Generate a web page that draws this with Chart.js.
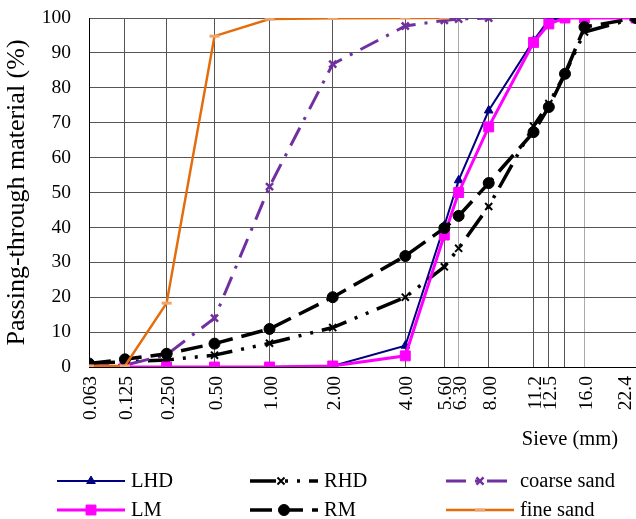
<!DOCTYPE html>
<html>
<head>
<meta charset="utf-8">
<script src="https://cdn.jsdelivr.net/npm/chart.js@4/dist/chart.umd.min.js"></script>
<style>
html, body { margin: 0; padding: 0; background: #fff; }
</style>
</head>
<body>
<canvas id="myChart" width="636" height="519"></canvas>
<script>
// sieve sizes (mm) and their tick labels, 14 mm has a grid line but no label
var sieves = [0.063, 0.125, 0.25, 0.5, 1, 2, 4, 5.6, 6.3, 8, 11.2, 12.5, 14, 16, 22.4]
var sieveLabels = ['0.063', '0.125', '0.250', '0.50', '1.00', '2.00', '4.00', '5.60', '6.30', '8.00', '11.2', '12.5', '', '16.0', '22.4']
var yTicks = [0, 10, 20, 30, 40, 50, 60, 70, 80, 90, 100]

// passing (%) per sieve
var lhd        = [0, 0, 0, 0, 0, 0.3, 6.1, 40.5, 53.5, 73.5, 93.5, 99.5, 100, 100, 100]
var rhd        = [1, 1.5, 2, 3.4, 6.8, 11.3, 20, 28.7, 34, 46, 69, 75.5, 84, 96, 100]
var coarseSand = [0.5, 0.5, 3.5, 14, 51.7, 86.8, 97.7, 99.3, 99.7, 100, null, null, null, null, null]
var lm         = [0, 0, 0, 0, 0, 0.3, 3.2, 37.8, 50, 68.8, 93, 98.3, 100, 100, 100]
var rm         = [1, 2.2, 3.8, 6.7, 10.9, 20, 31.8, 39.8, 43.3, 52.7, 67.3, 74.5, 84, 97.4, 100]
var fineSand   = [0.3, 0.3, 18.3, 94.8, 99.7, 99.9, 100, 100, null, null, null, null, null, null, null]

var FONT = '"Liberation Serif", "Times New Roman", serif'
var P = 0.2   // x axis is spaced by d^0.2

class PowerScale extends Chart.LinearScale {
	getPixelForValue(v) {
		var a = Math.pow(this.min, P), b = Math.pow(this.max, P)
		return this.getPixelForDecimal((Math.pow(v, P) - a) / (b - a))
	}
	getValueForPixel(px) {
		var a = Math.pow(this.min, P), b = Math.pow(this.max, P)
		return Math.pow(a + this.getDecimalForPixel(px) * (b - a), 1 / P)
	}
	getLabelItems(area) {
		// keep the last rotated label inside the canvas
		// (translation x sits half a line left of the label centre)
		var items = super.getLabelItems(area)
		var lim = this.right - 22
		items.forEach(function(it) {
			var t = it.options && it.options.translation
			if (t && t[0] > lim) t[0] = lim
		})
		return items
	}
}
PowerScale.id = 'power'
PowerScale.defaults = {}
Chart.register(PowerScale)

Chart.defaults.font.family = FONT
Chart.defaults.font.size = 19
Chart.defaults.color = '#000'

// legend in two rows of three, line sample + marker + name
var legendPlugin = {
	id: 'legendBelow',
	afterDraw: function(chart) {
		var ctx = chart.ctx
		var cols = [57, 250, 446]
		var rows = [481, 510]
		ctx.save()
		ctx.font = '20.5px ' + FONT
		ctx.fillStyle = '#000'
		ctx.textAlign = 'right'
		ctx.textBaseline = 'middle'
		ctx.fillText('Sieve (mm)', 618, 440)
		chart.data.datasets.forEach(function(d, i) {
			var x = cols[i % 3], y = rows[Math.floor(i / 3)]
			ctx.strokeStyle = d.borderColor
			ctx.lineWidth = d.borderWidth
			ctx.setLineDash(d.borderDash || [])
			ctx.beginPath()
			ctx.moveTo(x, y)
			ctx.lineTo(x + 68, y)
			ctx.stroke()
			ctx.setLineDash([])
			ctx.fillStyle = d.pointBackgroundColor
			ctx.strokeStyle = d.pointBorderColor
			ctx.lineWidth = d.pointBorderWidth
			Chart.helpers.drawPoint(ctx, {pointStyle: d.pointStyle, radius: d.pointRadius, rotation: 0, borderWidth: d.pointBorderWidth}, x + d.legendMark, y)
			ctx.fillStyle = '#000'
			ctx.textAlign = 'left'
			ctx.fillText(d.label, x + 74, y + 1)
		})
		ctx.restore()
	}
}

var myChart = document.getElementById('myChart').getContext('2d')
var chart = new Chart(myChart, {
	type: 'line',
	data: {
		labels: sieves,
		datasets: [
			{
				label: 'LHD', data: lhd, order: 5,
				borderColor: '#000080', borderWidth: 2,
				pointStyle: 'triangle', pointRadius: 5, pointBackgroundColor: '#000080', pointBorderColor: '#000080', pointBorderWidth: 1,
				legendMark: 34
			},
			{
				label: 'RHD', data: rhd, order: 4,
				borderColor: '#000', borderWidth: 3.5, borderDash: [26, 9, 3, 9, 3, 9],
				pointStyle: 'crossRot', pointRadius: 5, pointBackgroundColor: '#000', pointBorderColor: '#000', pointBorderWidth: 2,
				legendMark: 31
			},
			{
				label: 'coarse sand', data: coarseSand, order: 3,
				borderColor: '#7030A0', borderWidth: 3, borderDash: [20, 9, 3, 9],
				pointStyle: 'crossRot', pointRadius: 5, pointBackgroundColor: '#7030A0', pointBorderColor: '#7030A0', pointBorderWidth: 2.5,
				legendMark: 34
			},
			{
				label: 'LM', data: lm, order: 2,
				borderColor: '#FF00FF', borderWidth: 3,
				pointStyle: 'rect', pointRadius: 7, pointBackgroundColor: '#FF00FF', pointBorderColor: '#FF00FF', pointBorderWidth: 1,
				legendMark: 34
			},
			{
				label: 'RM', data: rm, order: 1,
				borderColor: '#000', borderWidth: 3.5, borderDash: [22, 9],
				pointStyle: 'circle', pointRadius: 5.5, pointBackgroundColor: '#000', pointBorderColor: '#000', pointBorderWidth: 1,
				legendMark: 34
			},
			{
				label: 'fine sand', data: fineSand, order: 0,
				borderColor: '#E46C0A', borderWidth: 2.5,
				pointStyle: 'line', pointRadius: 5, pointBackgroundColor: '#EDA46E', pointBorderColor: '#EDA46E', pointBorderWidth: 3,
				legendMark: 34
			}
		]
	},
	options: {
		responsive: false,
		animation: false,
		devicePixelRatio: 1,
		layout: { autoPadding: false, padding: { left: 0, right: 0, top: 18, bottom: 64 } },
		plugins: { legend: { display: false }, tooltip: { enabled: false } },
		elements: { line: { tension: 0, borderCapStyle: 'butt' } },
		scales: {
			x: {
				type: 'power',
				min: 0.063,
				max: 22.4,
				afterBuildTicks: function(s) { s.ticks = sieves.map(function(v) { return {value: v} }) },
				afterFit: function(s) { s.height = 88; s.paddingLeft = 0; s.paddingRight = 0 },
				grid: {
					drawTicks: false,
					color: function(c) { var v = c.tick && c.tick.value; return (v === 6.3 || v === 16) ? '#aaa' : '#555' }
				},
				border: { color: '#000', width: 1 },
				ticks: {
					autoSkip: false, minRotation: 90, maxRotation: 90, padding: 9, labelOffset: 2,
					font: { size: 19.5 },
					callback: function(v, i) { return sieveLabels[i] }
				}
			},
			y: {
				min: 0,
				max: 100,
				afterBuildTicks: function(s) { s.ticks = yTicks.map(function(v) { return {value: v} }) },
				afterFit: function(s) { s.width = 89; s.paddingTop = 0; s.paddingBottom = 0 },
				grid: { drawTicks: false, color: '#555' },
				border: { color: '#000', width: 1 },
				ticks: { padding: 18, font: { size: 19.5 } },
				title: { display: true, text: 'Passing-through material (%)', font: { size: 26 }, padding: { top: 2, bottom: 0 } }
			}
		}
	},
	plugins: [legendPlugin]
})
</script>
</body>
</html>
